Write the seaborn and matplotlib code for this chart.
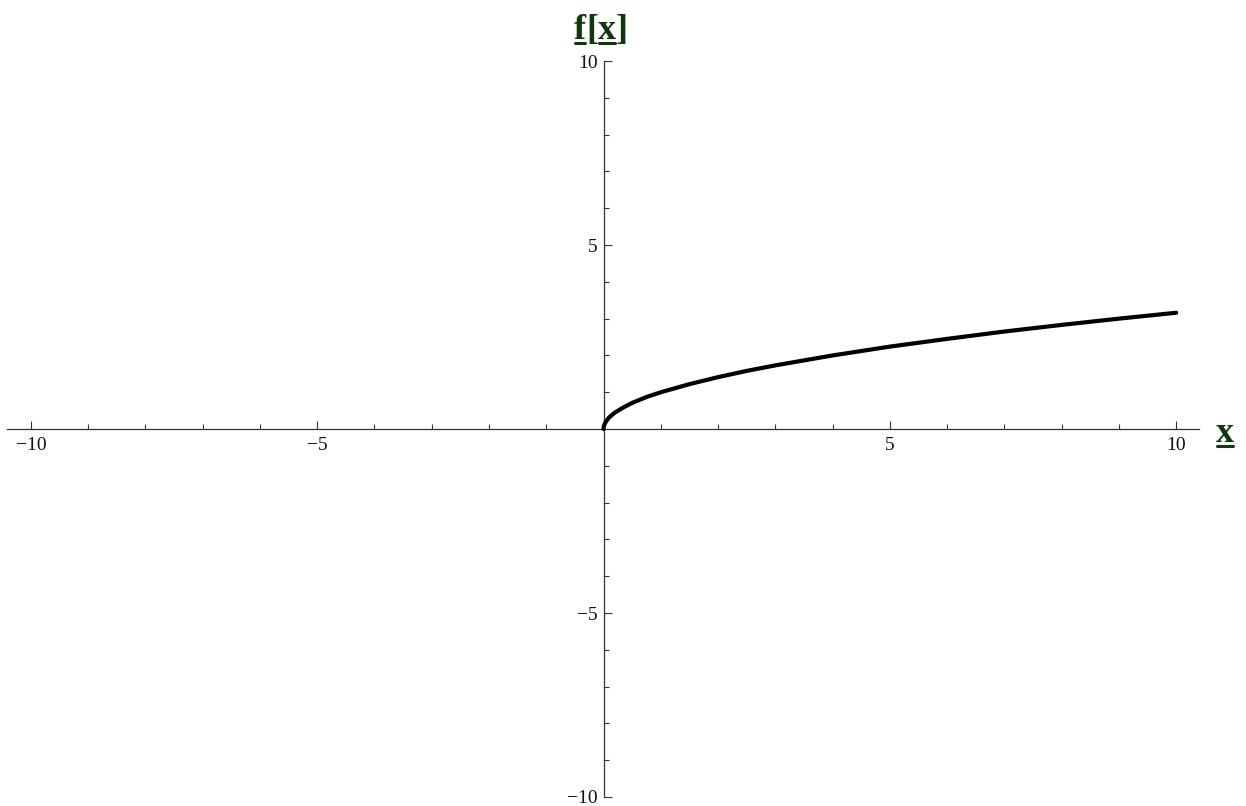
import matplotlib
matplotlib.use("Agg")
import matplotlib.pyplot as plt
from matplotlib.ticker import FixedLocator, FuncFormatter
from matplotlib.lines import Line2D
import seaborn as sns
import pandas as pd

# Sampled points of the curve f[x]
x_vals = [0, 0.005, 0.02, 0.05, 0.1, 0.2, 0.35, 0.5, 0.75, 1.0, 1.5, 2.0, 2.5,
          3.0, 4.0, 5.0, 6.0, 7.0, 8.0, 9.0, 10.0]
f_vals = [0, 0.07, 0.14, 0.22, 0.32, 0.45, 0.59, 0.71, 0.87, 1.0, 1.22, 1.41,
          1.58, 1.73, 2.0, 2.24, 2.45, 2.65, 2.83, 3.0, 3.16]

x_major = [-10, -5, 5, 10]
x_minor = [v for v in range(-10, 11) if v != 0]
y_major = [-10, -5, 5, 10]
y_minor = [v for v in range(-10, 11) if v != 0]

label_color = "#0d3a0b"

sns.set_theme(style="white")
plt.rcParams["font.family"] = ["Liberation Serif", "DejaVu Sans"]
plt.rcParams["axes.unicode_minus"] = True

fig = plt.figure(figsize=(12.46, 8.06), dpi=100)
ax = fig.add_axes([0, 0, 1, 1])
ax.set_facecolor("white")

df = pd.DataFrame({"x": x_vals, "f": f_vals})
sns.lineplot(data=df, x="x", y="f", ax=ax, color="black", linewidth=3.0,
             sort=False, estimator=None)
ax.set_xlabel("")
ax.set_ylabel("")

ax.set_xlim(-10.54, 11.22)
ax.set_ylim(-10.245, 11.66)

for side in ("top", "right"):
    ax.spines[side].set_visible(False)
ax.spines["left"].set_position("zero")
ax.spines["bottom"].set_position("zero")
ax.spines["left"].set_bounds(-10, 10)
ax.spines["bottom"].set_bounds(-10.42, 10.40)
for side in ("left", "bottom"):
    ax.spines[side].set_color("#333333")
    ax.spines[side].set_linewidth(0.9)
    ax.spines[side].set_zorder(1)

fmt = FuncFormatter(lambda v, p: f"{v:g}".replace("-", "\u2212"))
ax.xaxis.set_major_locator(FixedLocator(x_major))
ax.xaxis.set_minor_locator(FixedLocator(x_minor))
ax.yaxis.set_major_locator(FixedLocator(y_major))
ax.yaxis.set_minor_locator(FixedLocator(y_minor))
ax.xaxis.set_major_formatter(fmt)
ax.yaxis.set_major_formatter(fmt)

ax.tick_params(axis="both", which="both", direction="in", color="#333333",
               width=0.8, labelsize=14, labelcolor="#111111",
               bottom=True, left=True, top=False, right=False)
ax.tick_params(axis="both", which="major", length=6)
ax.tick_params(axis="both", which="minor", length=3.6)
ax.tick_params(axis="x", which="major", pad=6)
ax.tick_params(axis="y", which="major", pad=4)


def underlined_label(pieces, x_px, y_px, size):
    """Draw a row of text pieces starting at a pixel position, underlining flagged ones."""
    renderer = fig.canvas.get_renderer()
    W, H = fig.bbox.width, fig.bbox.height
    cur = x_px
    for txt, under in pieces:
        t = fig.text(cur / W, 1 - y_px / H, txt, fontsize=size, fontweight="bold",
                     color=label_color, ha="left", va="baseline",
                     family=["Liberation Serif", "DejaVu Sans"])
        bb = t.get_window_extent(renderer)
        if under:
            yline = (H - y_px - 4) / H
            fig.add_artist(Line2D([bb.x0 / W + 1 / W, bb.x1 / W - 1 / W],
                                  [yline, yline],
                                  transform=fig.transFigure,
                                  color=label_color, linewidth=2.2))
        cur = bb.x1


fig.canvas.draw()
underlined_label([("f", True), ("[", False), ("x", True), ("]", False)],
                 574, 39, 26)
underlined_label([("x", True)], 1216, 442, 26)

fig.savefig("out.png", dpi=100, facecolor="white")
